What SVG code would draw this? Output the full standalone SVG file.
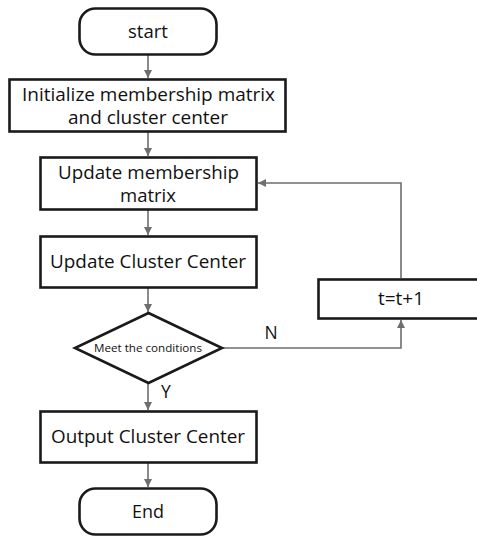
<svg xmlns="http://www.w3.org/2000/svg" width="477" height="536" viewBox="0 0 477 536">
<defs>
<marker id="ah" viewBox="0 0 10 10" refX="10" refY="5" markerWidth="8" markerHeight="8" markerUnits="userSpaceOnUse" orient="auto">
<path d="M0,0 L10,5 L0,10 z" fill="#6e6e6e"/>
</marker>
<style>
.box{fill:#fff;stroke:#1a1a1a;stroke-width:2.6}
.t{font-family:"Open Sans","DejaVu Sans",sans-serif;font-size:17.5px;fill:#111;text-anchor:middle}
.s{font-family:"Open Sans","DejaVu Sans",sans-serif;font-size:11.5px;fill:#111;text-anchor:middle}
.c{fill:none;stroke:#6e6e6e;stroke-width:1.6;marker-end:url(#ah)}
</style>
</defs>
<rect width="477" height="536" fill="#fff"/>
<g id="connectors">
<path class="c" d="M148,54 V78"/>
<path class="c" d="M148,132 V156"/>
<path class="c" d="M148,210 V235"/>
<path class="c" d="M148,288 V312"/>
<path class="c" d="M148,383 V410"/>
<path class="c" d="M148,463 V487"/>
<path class="c" d="M222,348 H401 V320"/>
<path class="c" d="M401,278 V183 H258"/>
<text class="t" x="271" y="339">N</text>
<text class="t" x="166" y="398">Y</text>
</g>
<g id="start">
<rect class="box" x="79.5" y="8.5" width="137" height="46" rx="16"/>
<text class="t" x="148" y="38" textLength="40" lengthAdjust="spacingAndGlyphs">start</text>
</g>
<g id="init">
<rect class="box" x="9.5" y="79.5" width="276" height="52"/>
<text class="t" x="148.5" y="100.5" textLength="253" lengthAdjust="spacingAndGlyphs">Initialize membership matrix</text>
<text class="t" x="148" y="123.5" textLength="160" lengthAdjust="spacingAndGlyphs">and cluster center</text>
</g>
<g id="update-membership">
<rect class="box" x="40.5" y="157.5" width="216" height="52"/>
<text class="t" x="148.5" y="178.5" textLength="181" lengthAdjust="spacingAndGlyphs">Update membership</text>
<text class="t" x="148" y="202" textLength="56" lengthAdjust="spacingAndGlyphs">matrix</text>
</g>
<g id="update-center">
<rect class="box" x="40.5" y="236.5" width="216" height="51"/>
<text class="t" x="148" y="268" textLength="196" lengthAdjust="spacingAndGlyphs">Update Cluster Center</text>
</g>
<g id="condition">
<polygon class="box" points="148.5,313 222,348 148.5,383 75,348"/>
<text class="s" x="148" y="352" textLength="108" lengthAdjust="spacingAndGlyphs">Meet the conditions</text>
</g>
<g id="increment">
<rect class="box" x="318.5" y="279.5" width="170" height="39"/>
<text class="t" x="401" y="305" textLength="46" lengthAdjust="spacingAndGlyphs">t=t+1</text>
</g>
<g id="output">
<rect class="box" x="40.5" y="411.5" width="216" height="51"/>
<text class="t" x="148" y="443" textLength="194" lengthAdjust="spacingAndGlyphs">Output Cluster Center</text>
</g>
<g id="end">
<rect class="box" x="79.5" y="488.5" width="137" height="46" rx="16"/>
<text class="t" x="148" y="518" textLength="32" lengthAdjust="spacingAndGlyphs">End</text>
</g>
</svg>
